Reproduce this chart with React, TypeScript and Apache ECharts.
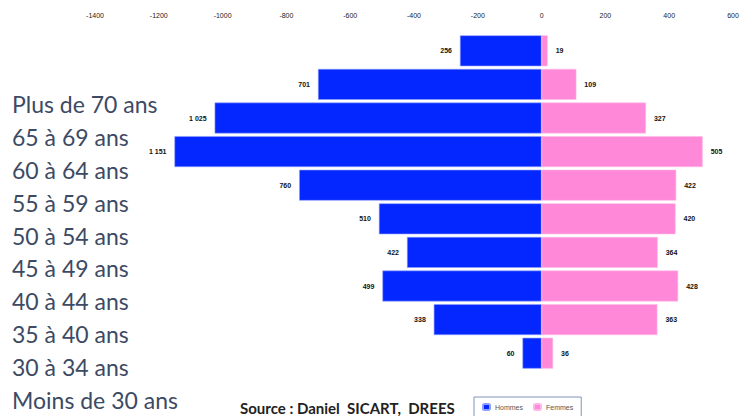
import React, { useEffect, useRef } from "react";
import * as echarts from "echarts";

const ageGroups = [
  "Plus de 70 ans",
  "65 à 69 ans",
  "60 à 64 ans",
  "55 à 59 ans",
  "50 à 54 ans",
  "45 à 49 ans",
  "40 à 44 ans",
  "35 à 40 ans",
  "30 à 34 ans",
  "Moins de 30 ans",
];
const hommes = [256, 701, 1025, 1151, 760, 510, 422, 499, 338, 60];
const femmes = [19, 109, 327, 505, 422, 420, 364, 428, 363, 36];
const xMin = -1400;
const xMax = 600;
const xStep = 200;

function fmt(n: number): string {
  const a = Math.abs(n);
  if (a >= 1000) {
    return `${Math.floor(a / 1000)} ${String(a % 1000).padStart(3, "0")}`;
  }
  return String(a);
}

export default function App() {
  const ref = useRef<HTMLDivElement>(null);
  useEffect(() => {
    if (!ref.current) return;
    const chart = echarts.init(ref.current, null, { renderer: "svg" });
    const dataLabel = {
      show: true,
      fontSize: 7,
      fontWeight: "bold" as const,
      color: "#111",
      fontFamily: "Liberation Sans",
      distance: 8,
      formatter: (p: any) => fmt(p.value),
    };
    chart.setOption({
      animation: false,
      backgroundColor: "#ffffff",
      title: {
        text: "Source : Daniel  SICART,  DREES",
        left: 240,
        top: 400,
        textStyle: {
          fontFamily: "Lato",
          fontSize: 15,
          fontWeight: "bold",
          color: "#222",
        },
        padding: 0,
      },
      legend: {
        left: 474,
        top: 397,
        orient: "horizontal",
        borderColor: "#7f96b8",
        borderWidth: 1,
        padding: [6, 8, 8, 8],
        itemWidth: 7,
        itemHeight: 6,
        itemGap: 10,
        textStyle: { fontSize: 7, color: "#555", fontFamily: "Liberation Sans" },
        data: ["Hommes", "Femmes"],
      },
      grid: [
        { left: 95, right: 11, top: 34, height: 336 },
        { left: 12, width: 1, top: 88, height: 330 },
      ],
      xAxis: [
        {
          type: "value",
          gridIndex: 0,
          position: "top",
          min: xMin,
          max: xMax,
          interval: xStep,
          axisLine: { show: false },
          axisTick: { show: false },
          splitLine: { show: false },
          axisLabel: {
            fontSize: 7,
            color: "#222",
            fontFamily: "Liberation Sans",
            margin: 15,
            formatter: (v: number) => String(v),
          },
        },
        { type: "value", gridIndex: 1, show: false },
      ],
      yAxis: [
        {
          type: "category",
          gridIndex: 0,
          inverse: true,
          data: ageGroups,
          axisLine: { show: false },
          axisTick: { show: false },
          axisLabel: { show: false },
        },
        {
          type: "category",
          gridIndex: 1,
          inverse: true,
          data: ageGroups,
          axisLine: { show: false },
          axisTick: { show: false },
          axisLabel: {
            align: "left",
            margin: 0,
            fontFamily: "Lato",
            fontSize: 23,
            color: "#3d4a63",
          },
        },
      ],
      series: [
        {
          name: "Hommes",
          type: "bar",
          stack: "pop",
          xAxisIndex: 0,
          yAxisIndex: 0,
          barCategoryGap: "8%",
          data: hommes.map((v) => -v),
          itemStyle: { color: "#0527ff", borderColor: "#8ea0ff", borderWidth: 0.6 },
          label: { ...dataLabel, position: "left" },
        },
        {
          name: "Femmes",
          type: "bar",
          stack: "pop",
          xAxisIndex: 0,
          yAxisIndex: 0,
          barCategoryGap: "8%",
          data: femmes,
          itemStyle: { color: "#ff88d8", borderColor: "#ffb8e8", borderWidth: 0.6 },
          label: { ...dataLabel, position: "right" },
        },
      ],
    });
    return () => chart.dispose();
  }, []);
  return (
    <div
      ref={ref}
      style={{ position: "fixed", left: 0, top: 0, width: 744, height: 416 }}
    />
  );
}
